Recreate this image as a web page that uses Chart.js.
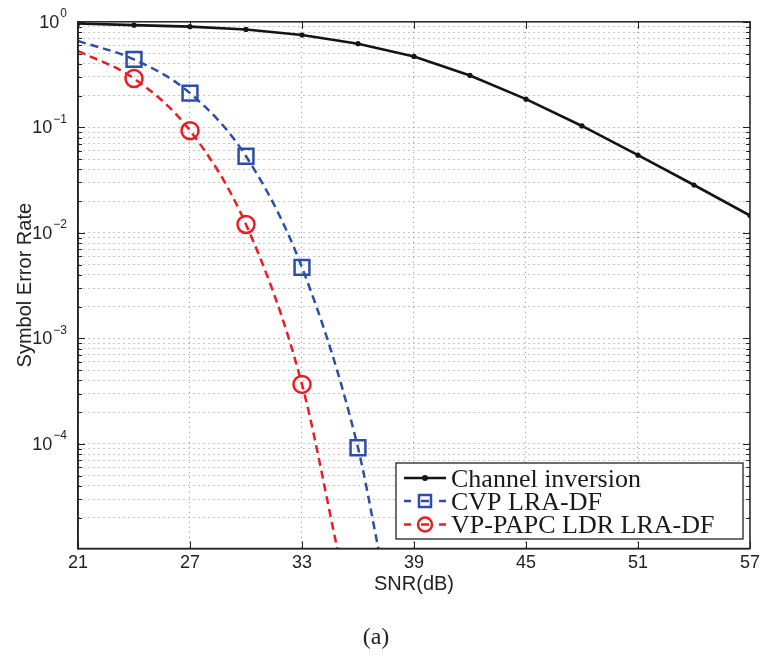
<!DOCTYPE html>
<html lang="en">
<head>
  <meta charset="UTF-8" />
  <title>Symbol Error Rate vs SNR</title>
  <script src="https://cdn.jsdelivr.net/npm/chart.js"></script>
  <style>
    body { margin: 0; background: #fff; }
    #wrap { width: 764px; height: 666px; }
  </style>
</head>
<body>
  <div id="wrap"><canvas id="serChart" width="764" height="666"></canvas></div>

  <script>
    // values
    const snrCI = [21, 24, 27, 30, 33, 36, 39, 42, 45, 48, 51, 54, 57];
    const serCI = [0.964, 0.93, 0.90, 0.846, 0.75, 0.62, 0.47, 0.31, 0.185, 0.103, 0.0544, 0.0284, 0.0146];

    const snrCVP = [21, 24, 27, 30, 33, 36, 37.1];
    const serCVP = [0.658, 0.44, 0.211, 0.0532, 0.0047, 9.2e-5, 1.0e-5];

    const snrVP = [21, 24, 27, 30, 33, 34.9];
    const serVP = [0.529, 0.29, 0.093, 0.012, 3.66e-4, 1.0e-5];

    // snr values that carry a marker on the dashed curves
    const markedSNR = [24, 27, 30, 33, 36];

    const xTicks = [21, 27, 33, 39, 45, 51, 57];
    const yDecades = [1e-5, 1e-4, 1e-3, 1e-2, 1e-1, 1];
    const yDecadeExp = ["−5", "−4", "−3", "−2", "−1", "0"];

    const yMin = 1.02e-5;
    const yMax = 1;

    // log grid: 1..9 per decade
    const yGrid = [];
    yDecades.forEach(d => {
      for (let m = 1; m <= 9; m++) {
        const v = d * m;
        if (v >= yMin && v <= yMax * 1.0001) yGrid.push(v);
      }
    });

    const BLACK = "#141414";
    const BLUE = "#2c4ea6";
    const RED = "#ec1c24";
    const SANS = "'Liberation Sans', Arial, sans-serif";
    const SERIF = "'Liberation Serif', 'Times New Roman', serif";

    function pts(xs, ys) {
      return xs.map((x, i) => ({ x: x, y: ys[i] }));
    }

    function markerRadius(r) {
      return ctx => (ctx.raw && markedSNR.includes(ctx.raw.x) ? r : 0);
    }

    function isDecade(v) {
      return yDecades.some(d => Math.abs(v / d - 1) < 1e-6);
    }

    // box, inward tick marks, y labels with exponents and the legend
    const framePlugin = {
      id: "frame",
      afterDatasetsDraw(chart) {
        const { ctx, chartArea: a, scales } = chart;
        const xs = scales.x, ys = scales.y;
        ctx.save();
        ctx.strokeStyle = "#222";
        ctx.lineWidth = 1;
        ctx.setLineDash([]);
        ctx.beginPath();
        xTicks.forEach(v => {
          const px = Math.round(xs.getPixelForValue(v)) + 0.5;
          ctx.moveTo(px, a.bottom); ctx.lineTo(px, a.bottom - 7);
          ctx.moveTo(px, a.top); ctx.lineTo(px, a.top + 7);
        });
        yGrid.forEach(v => {
          const py = Math.round(ys.getPixelForValue(v)) + 0.5;
          const len = isDecade(v) ? 7 : 4;
          ctx.moveTo(a.left, py); ctx.lineTo(a.left + len, py);
          ctx.moveTo(a.right, py); ctx.lineTo(a.right - len, py);
        });
        ctx.stroke();

        ctx.lineWidth = 1.5;
        ctx.strokeRect(a.left, a.top, a.right - a.left, a.bottom - a.top);

        // y decade labels: "10" plus raised exponent
        ctx.fillStyle = "#222";
        ctx.textBaseline = "middle";
        yDecades.forEach((d, i) => {
          if (d < yMin) return;
          const py = ys.getPixelForValue(d);
          const right = a.left - 11;
          ctx.font = "12px " + SANS;
          const ew = ctx.measureText(yDecadeExp[i]).width;
          ctx.textAlign = "left";
          ctx.fillText(yDecadeExp[i], right - ew, py - 8);
          ctx.font = "18px " + SANS;
          ctx.textAlign = "right";
          ctx.fillText("10", right - ew - 1, py + 1);
        });

        // legend
        const lx = 396, ly = 463, lw = 347, lh = 76;
        ctx.fillStyle = "#fff";
        ctx.fillRect(lx, ly, lw, lh);
        ctx.lineWidth = 1.3;
        ctx.strokeStyle = "#222";
        ctx.strokeRect(lx, ly, lw, lh);

        const rows = [478, 501, 524.5];
        chart.data.datasets.forEach((ds, i) => {
          const cy = rows[i];
          const x0 = 404, x1 = 446, cx = 425;
          ctx.strokeStyle = ds.borderColor;
          ctx.lineWidth = 2.5;
          ctx.setLineDash([]);
          ctx.beginPath();
          if (ds.borderDash && ds.borderDash.length) {
            ctx.moveTo(x0, cy); ctx.lineTo(x0 + 7, cy);
            ctx.moveTo(x1 - 7, cy); ctx.lineTo(x1, cy);
            ctx.moveTo(cx - 4, cy); ctx.lineTo(cx + 4, cy);
          } else {
            ctx.moveTo(x0, cy); ctx.lineTo(x1, cy);
          }
          ctx.stroke();
          ctx.beginPath();
          if (ds.legendMarker === "dot") {
            ctx.fillStyle = ds.borderColor;
            ctx.arc(cx, cy, 3, 0, Math.PI * 2);
            ctx.fill();
          } else if (ds.legendMarker === "square") {
            ctx.rect(cx - 6, cy - 6, 12, 12);
            ctx.stroke();
          } else {
            ctx.arc(cx, cy, 7, 0, Math.PI * 2);
            ctx.stroke();
          }
          ctx.fillStyle = "#1a1a1a";
          ctx.font = "26px " + SERIF;
          ctx.textBaseline = "alphabetic";
          ctx.textAlign = "left";
          ctx.fillText(ds.label, 451, cy + 8.5);
        });
        ctx.restore();
      }
    };

    new Chart(document.getElementById("serChart"), {
      type: "line",
      data: {
        datasets: [
          {
            label: "Channel inversion",
            data: pts(snrCI, serCI),
            borderColor: BLACK,
            backgroundColor: BLACK,
            borderWidth: 2.6,
            pointRadius: 2.6,
            pointBorderWidth: 0,
            pointStyle: "circle",
            tension: 0,
            legendMarker: "dot"
          },
          {
            label: "CVP LRA-DF",
            data: pts(snrCVP, serCVP),
            borderColor: BLUE,
            backgroundColor: "transparent",
            borderWidth: 2.5,
            borderDash: [8, 5],
            pointStyle: "rect",
            pointRadius: markerRadius(10.5),
            pointBorderWidth: 2.5,
            pointBorderColor: BLUE,
            pointBackgroundColor: "transparent",
            cubicInterpolationMode: "monotone",
            legendMarker: "square"
          },
          {
            label: "VP-PAPC LDR LRA-DF",
            data: pts(snrVP, serVP),
            borderColor: RED,
            backgroundColor: "transparent",
            borderWidth: 2.5,
            borderDash: [8, 5],
            pointStyle: "circle",
            pointRadius: markerRadius(8.5),
            pointBorderWidth: 2.5,
            pointBorderColor: RED,
            pointBackgroundColor: "transparent",
            cubicInterpolationMode: "monotone",
            legendMarker: "circle"
          }
        ]
      },
      options: {
        responsive: false,
        animation: false,
        devicePixelRatio: 1,
        layout: { padding: { left: 0, right: 12, top: 19, bottom: 0 } },
        plugins: {
          legend: { display: false },
          tooltip: { enabled: false },
          title: {
            display: true,
            position: "bottom",
            text: "(a)",
            color: "#222",
            font: { family: SERIF, size: 24, weight: "normal" },
            padding: { top: 0, bottom: 14 }
          }
        },
        scales: {
          x: {
            type: "linear",
            min: 21,
            max: 57,
            afterBuildTicks: s => { s.ticks = xTicks.map(v => ({ value: v })); },
            afterFit: s => { s.height = 74.7; },
            ticks: {
              autoSkip: false,
              maxRotation: 0,
              padding: 4,
              color: "#222",
              font: { family: SANS, size: 18 },
              callback: v => String(v)
            },
            grid: { color: "#8a8a8a", lineWidth: 1, drawTicks: false },
            border: { display: true, color: "#222", width: 1.5, dash: [1, 4] },
            title: {
              display: true,
              text: "SNR(dB)",
              color: "#222",
              font: { family: SANS, size: 20 },
              padding: { top: 0, bottom: 27 }
            }
          },
          y: {
            type: "logarithmic",
            min: yMin,
            max: yMax,
            afterBuildTicks: s => { s.ticks = yGrid.map(v => ({ value: v })); },
            afterFit: s => { s.width = 78; },
            ticks: {
              autoSkip: false,
              padding: 11,
              color: "#222",
              font: { family: SANS, size: 18 },
              callback: () => ""
            },
            grid: { color: "#8a8a8a", lineWidth: 1, drawTicks: false },
            border: { display: true, color: "#222", width: 1.5, dash: [1, 4] },
            title: {
              display: true,
              text: "Symbol Error Rate",
              color: "#222",
              font: { family: SANS, size: 20 },
              padding: { top: 13, bottom: 0 }
            }
          }
        }
      },
      plugins: [framePlugin]
    });
  </script>
</body>
</html>
